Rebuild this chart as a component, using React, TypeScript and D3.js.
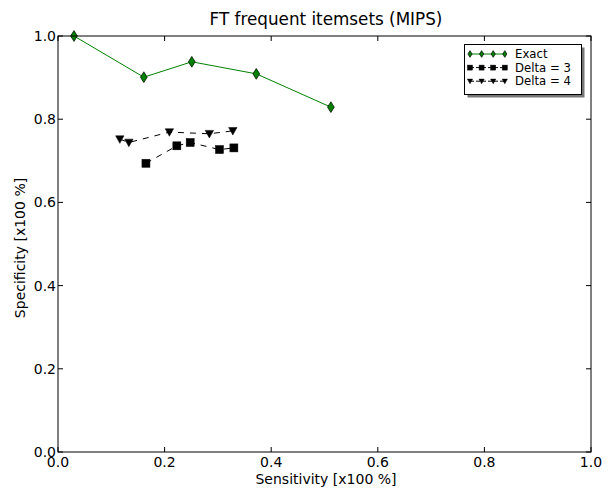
import React from "react";
import * as d3 from "d3";

const exactX = [0.03, 0.161, 0.251, 0.372, 0.512];
const exactY = [1.0, 0.901, 0.938, 0.909, 0.829];
const delta3X = [0.165, 0.223, 0.248, 0.303, 0.33];
const delta3Y = [0.694, 0.736, 0.744, 0.727, 0.731];
const delta4X = [0.116, 0.133, 0.209, 0.284, 0.328];
const delta4Y = [0.752, 0.744, 0.769, 0.765, 0.772];
const xTicks = [0, 0.2, 0.4, 0.6, 0.8, 1.0];
const yTicks = [0, 0.2, 0.4, 0.6, 0.8, 1.0];
const seriesNames = ["Exact", "Delta = 3", "Delta = 4"];

const W = 608, H = 492;
const M = { left: 58, right: 591, top: 36, bottom: 452 };
const FONT = "DejaVu Sans, sans-serif";

function Marker({ kind, x, y, k = 1 }: { kind: string; x: number; y: number; k?: number }) {
  if (kind === "d") {
    const w = 3.4 * k, h = 5.4 * k;
    return (
      <path
        d={`M${x},${y - h}L${x + w},${y}L${x},${y + h}L${x - w},${y}Z`}
        fill="#008000"
        stroke="#000"
        strokeWidth={0.7}
      />
    );
  }
  if (kind === "s") {
    const s = 4 * k;
    return <rect x={x - s} y={y - s} width={2 * s} height={2 * s} fill="#000" stroke="#000" strokeWidth={0.5} />;
  }
  const s = 4.2 * k;
  return (
    <path d={`M${x - s},${y - s * 0.8}L${x + s},${y - s * 0.8}L${x},${y + s * 1.0}Z`} fill="#000" stroke="#000" strokeWidth={0.5} />
  );
}

export default function App() {
  const x = d3.scaleLinear().domain([0, 1]).range([M.left, M.right]);
  const y = d3.scaleLinear().domain([0, 1]).range([M.bottom, M.top]);
  const line = d3.line<[number, number]>().x((d) => x(d[0])).y((d) => y(d[1]));
  const zip = (a: number[], b: number[]) => a.map((v, i) => [v, b[i]] as [number, number]);
  const series = [
    { name: seriesNames[0], pts: zip(exactX, exactY), color: "#008000", dash: undefined as string | undefined, kind: "d" },
    { name: seriesNames[1], pts: zip(delta3X, delta3Y), color: "#000", dash: "6,6", kind: "s" },
    { name: seriesNames[2], pts: zip(delta4X, delta4Y), color: "#000", dash: "6,6", kind: "v" },
  ];
  const lg = { x: 464.5, y: 44.5, w: 117, h: 50 };
  return (
    <svg width={W} height={H} style={{ position: "absolute", left: 0, top: 0, background: "#fff" }} fontFamily={FONT}>
      <rect width={W} height={H} fill="#fff" />
      <text x={326} y={25} textAnchor="middle" fontSize={16.8}>
        FT frequent itemsets (MIPS)
      </text>
      {series.map((s) => (
        <g key={s.name}>
          <path d={line(s.pts) || ""} fill="none" stroke={s.color} strokeWidth={1} strokeDasharray={s.dash} />
          {s.pts.map((p, i) => (
            <Marker key={i} kind={s.kind} x={x(p[0])} y={y(p[1])} />
          ))}
        </g>
      ))}
      <rect x={M.left} y={M.top} width={M.right - M.left} height={M.bottom - M.top} fill="none" stroke="#000" strokeWidth={1} />
      {xTicks.map((t) => (
        <g key={"x" + t}>
          <line x1={x(t)} x2={x(t)} y1={M.bottom} y2={M.bottom - 5} stroke="#000" />
          <line x1={x(t)} x2={x(t)} y1={M.top} y2={M.top + 5} stroke="#000" />
          <text x={x(t)} y={M.bottom + 15} textAnchor="middle" fontSize={14}>
            {t.toFixed(1)}
          </text>
        </g>
      ))}
      {yTicks.map((t) => (
        <g key={"y" + t}>
          <line x1={M.left} x2={M.left + 5} y1={y(t)} y2={y(t)} stroke="#000" />
          <line x1={M.right} x2={M.right - 5} y1={y(t)} y2={y(t)} stroke="#000" />
          <text x={M.left - 2} y={y(t) + 5} textAnchor="end" fontSize={14}>
            {t.toFixed(1)}
          </text>
        </g>
      ))}
      <text x={326} y={484} textAnchor="middle" fontSize={14}>
        Sensitivity [x100 %]
      </text>
      <text transform={`translate(25,248) rotate(-90)`} textAnchor="middle" fontSize={14}>
        Specificity [x100 %]
      </text>
      <g>
        <rect x={lg.x + 3} y={lg.y + 3} width={lg.w} height={lg.h} fill="#777" />
        <rect x={lg.x} y={lg.y} width={lg.w} height={lg.h} fill="#fff" stroke="#000" strokeWidth={1} />
        {series.map((s, i) => {
          const cy = lg.y + 9.5 + i * 13.6;
          const xs = [0, 1, 2, 3].map((k) => lg.x + 5.5 + k * 11.6);
          return (
            <g key={"lg" + s.name}>
              <line x1={xs[0]} x2={xs[3]} y1={cy} y2={cy} stroke={s.color} strokeDasharray={s.dash ? "4,2" : undefined} />
              {xs.map((px, k) => (
                <Marker key={k} kind={s.kind} x={px} y={cy} k={0.62} />
              ))}
              <text x={lg.x + 50.5} y={cy + 4.2} fontSize={11.7}>
                {s.name}
              </text>
            </g>
          );
        })}
      </g>
    </svg>
  );
}
